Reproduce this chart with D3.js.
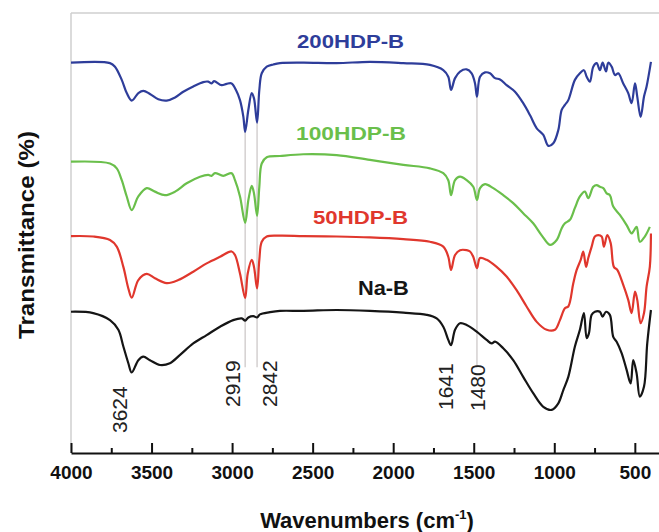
<!DOCTYPE html>
<html>
<head>
<meta charset="utf-8">
<script src="https://cdn.jsdelivr.net/npm/d3@7"></script>
<style>
  html, body { margin: 0; padding: 0; background: #fff; }
  svg { display: block; }
  text { font-family: "Liberation Sans", Arial, sans-serif; }
</style>
</head>
<body>
<svg id="chart" width="659" height="532"></svg>
<script>
// ---------------- DATA ----------------
const seriesNames = ["200HDP-B", "100HDP-B", "50HDP-B", "Na-B"];
const seriesColors = ["#2e3d9a", "#6abf4b", "#e0372d", "#151515"];

// [wavenumber (cm-1), transmittance (%, offset)]
const hdp200 = [
  [4000,88.7],[3758,88.6],[3727,87.8],[3685,84.8],[3654,81.8],[3623,80.1],[3582,81.8],[3551,82.3],
  [3510,81.6],[3458,80.4],[3406,80.1],[3354,80.8],[3303,82.1],[3241,83.3],[3179,84.3],[3148,84.4],
  [3127,84.0],[3112,84.5],[3065,83.6],[3034,83.9],[3003,84.0],[2976,82.5],[2951,80.2],[2930,76.4],
  [2919,73.0],[2899,78.0],[2878,81.8],[2864,80.6],[2845,75.1],[2831,82.5],[2816,86.3],[2785,87.8],
  [2744,88.3],[2703,88.6],[2558,88.7],[2351,88.6],[2144,88.9],[1937,88.6],[1772,88.2],[1689,87.0],
  [1658,85.5],[1641,82.5],[1616,85.2],[1585,86.7],[1544,87.2],[1513,86.3],[1492,84.0],[1480,81.0],
  [1461,85.5],[1430,86.5],[1399,86.3],[1368,85.2],[1337,84.9],[1296,83.6],[1244,82.1],[1193,79.5],
  [1151,76.8],[1109,73.8],[1068,72.3],[1037,69.8],[1006,70.4],[975,73.4],[954,78.0],[934,79.1],
  [913,80.2],[872,84.8],[841,86.3],[816,87.0],[799,85.5],[779,84.4],[758,87.8],[737,88.6],
  [717,87.0],[700,88.7],[679,86.7],[665,88.7],[644,87.8],[623,85.9],[603,86.3],[572,84.0],
  [541,81.8],[520,79.5],[499,84.0],[485,81.0],[464,76.4],[443,81.0],[427,83.3],[400,88.9]
];
const hdp100 = [
  [4000,66.2],[3758,65.8],[3716,64.7],[3685,62.0],[3654,58.3],[3623,55.2],[3582,58.3],[3530,60.2],
  [3479,59.4],[3417,58.6],[3354,59.4],[3282,61.3],[3199,62.8],[3148,63.2],[3127,63.0],[3106,63.6],
  [3055,63.0],[3003,63.6],[2982,62.0],[2951,58.3],[2919,52.3],[2899,57.5],[2878,60.7],[2864,59.0],
  [2845,53.9],[2831,60.5],[2816,65.8],[2785,67.2],[2703,67.5],[2558,67.9],[2351,67.7],[2144,66.6],
  [1937,65.5],[1772,64.7],[1689,63.6],[1658,62.0],[1641,58.6],[1616,62.0],[1585,62.8],[1544,62.0],
  [1503,60.5],[1480,57.5],[1461,60.2],[1430,61.1],[1379,60.2],[1317,58.6],[1255,56.8],[1193,54.5],
  [1131,52.2],[1075,49.3],[1027,47.3],[985,48.4],[954,51.1],[934,52.2],[903,53.0],[872,55.7],
  [841,58.3],[810,59.4],[789,57.9],[758,60.5],[737,60.9],[717,60.5],[696,60.2],[675,59.0],
  [655,58.6],[634,56.0],[593,54.1],[551,51.8],[520,49.9],[510,50.3],[489,51.4],[469,48.0],
  [438,49.2],[407,51.4]
];
const hdp50 = [
  [4000,49.3],[3862,49.2],[3758,48.4],[3716,46.9],[3675,42.3],[3644,37.4],[3623,35.3],[3582,39.3],
  [3530,40.7],[3479,39.7],[3406,38.6],[3334,39.3],[3241,41.2],[3158,43.1],[3075,44.6],[3003,45.8],
  [2982,45.0],[2951,40.8],[2919,35.2],[2903,40.8],[2878,43.9],[2864,42.3],[2845,37.4],[2831,43.9],
  [2816,48.0],[2785,49.2],[2703,49.4],[2558,49.3],[2351,49.2],[2144,49.0],[1937,48.6],[1772,48.0],
  [1689,46.9],[1658,44.6],[1641,41.6],[1616,45.0],[1585,46.1],[1544,46.1],[1523,45.8],[1503,44.6],
  [1480,42.0],[1461,44.3],[1420,43.9],[1358,42.3],[1296,40.1],[1234,37.0],[1172,33.3],[1109,29.8],
  [1047,28.0],[996,28.0],[965,30.2],[934,32.9],[913,33.3],[882,38.6],[861,41.6],[836,43.9],
  [820,45.8],[803,42.3],[789,44.3],[768,46.9],[748,49.2],[727,49.5],[706,49.2],[692,46.9],
  [671,49.5],[650,47.7],[630,42.3],[609,41.6],[572,38.2],[541,34.8],[520,31.8],[499,36.7],
  [485,34.8],[464,29.5],[443,31.8],[427,37.8],[407,42.3],[400,49.9]
];
const naB = [
  [4000,32.1],[3862,31.8],[3758,30.2],[3706,28.0],[3675,24.2],[3644,20.4],[3623,18.3],[3582,21.1],
  [3551,21.9],[3510,21.1],[3448,20.0],[3386,20.4],[3323,22.3],[3241,24.9],[3158,26.8],[3075,28.7],
  [2993,30.2],[2940,30.6],[2919,30.1],[2899,30.8],[2868,31.1],[2845,30.8],[2827,31.5],[2765,32.0],
  [2703,32.3],[2558,32.3],[2351,32.5],[2144,32.3],[1937,31.9],[1792,31.4],[1730,30.6],[1689,28.7],
  [1658,25.7],[1641,24.5],[1616,28.0],[1585,29.5],[1544,29.1],[1482,27.6],[1420,25.7],[1389,24.9],
  [1368,25.3],[1317,23.8],[1255,21.1],[1193,17.3],[1131,13.6],[1068,10.5],[1016,9.8],[975,11.3],
  [944,14.3],[913,17.3],[872,24.2],[841,28.0],[816,31.8],[799,26.1],[785,27.2],[768,31.4],
  [748,32.1],[717,32.1],[700,31.0],[679,32.1],[655,31.4],[634,26.4],[613,25.3],[582,22.7],
  [551,18.9],[526,15.8],[510,21.1],[489,18.1],[469,12.8],[443,15.1],[423,24.9],[400,32.5]
];
const seriesData = [hdp200, hdp100, hdp50, naB];

// peak annotations
const peakLabels = ["3624", "2919", "2842", "1641", "1480"];
// marker lines: wavenumber, top / bottom transmittance
const markerWavenumbers = [2919, 2845, 1480];
const markerTop = [73.0, 75.1, 81.0];
const markerBottom = [19.5, 19.5, 19.5];

const xTickValues = [4000, 3500, 3000, 2500, 2000, 1500, 1000, 500];
const xMinorTicks = [3750, 3250, 2750, 2250, 1750, 1250, 750];

// ---------------- CHART ----------------
const svg = d3.select("#chart");
const x = d3.scaleLinear().domain([4000, 350]).range([71, 659]);
const y = d3.scaleLinear().domain([0, 100]).range([453, 13]);

// frame (light gray)
svg.append("line").attr("x1", x(4000)).attr("x2", x(350)).attr("y1", y(100)).attr("y2", y(100))
  .attr("stroke", "#cfcfcf").attr("stroke-width", 1.5);
svg.append("line").attr("x1", x(4000)).attr("x2", x(4000)).attr("y1", y(100)).attr("y2", y(0))
  .attr("stroke", "#cfcfcf").attr("stroke-width", 1.5);

// marker lines
markerWavenumbers.forEach((w, i) => {
  svg.append("line")
    .attr("x1", x(w)).attr("x2", x(w))
    .attr("y1", y(markerTop[i])).attr("y2", y(markerBottom[i]))
    .attr("stroke", "#c9c4c4").attr("stroke-width", 1.2);
});

// curves
const line = d3.line().x(d => x(d[0])).y(d => y(d[1])).curve(d3.curveCatmullRom.alpha(0.5));
seriesData.forEach((data, i) => {
  svg.append("path").datum(data)
    .attr("d", line)
    .attr("fill", "none")
    .attr("stroke", seriesColors[i])
    .attr("stroke-width", 2.2)
    .attr("stroke-linejoin", "round");
});

// series labels (start wavenumber, baseline transmittance, text length)
const labelPos = [
  {w: 2597, t: 92.0, len: 107, fs: 19},
  {w: 2603, t: 71.2, len: 110, fs: 19},
  {w: 2498, t: 52.0, len: 95, fs: 19},
  {w: 2219, t: 35.9, len: 51, fs: 21}
];
seriesNames.forEach((name, i) => {
  const p = labelPos[i];
  svg.append("text")
    .attr("x", x(p.w)).attr("y", y(p.t))
    .attr("fill", seriesColors[i])
    .attr("font-size", p.fs).attr("font-weight", "bold")
    .attr("textLength", p.len).attr("lengthAdjust", "spacingAndGlyphs")
    .attr("text-anchor", "start")
    .text(name);
});

// peak labels (rotated)
const peakBase = [127, 240, 277, 453, 485];
const peakStart = [433, 407, 407, 410, 411];
peakLabels.forEach((lab, i) => {
  svg.append("text")
    .attr("transform", `translate(${peakBase[i]},${peakStart[i]}) rotate(-90)`)
    .attr("font-size", 21)
    .attr("fill", "#222")
    .attr("text-anchor", "start")
    .text(lab);
});

// x axis
const axis = d3.axisBottom(x).tickValues(xTickValues).tickSizeInner(-10).tickSizeOuter(0).tickPadding(13)
  .tickFormat(d3.format("d"));
const gx = svg.append("g").attr("transform", `translate(0,${y(0)})`).call(axis);
gx.select(".domain").attr("stroke", "#111").attr("stroke-width", 2.2);
gx.selectAll(".tick line").attr("stroke", "#111").attr("stroke-width", 2);
gx.selectAll(".tick text").attr("font-size", 19).attr("font-weight", "bold")
  .attr("fill", "#111").attr("font-family", "'Liberation Sans', Arial, sans-serif");

const minorAxis = d3.axisBottom(x).tickValues(xMinorTicks).tickSizeInner(-5).tickSizeOuter(0).tickFormat("");
const gm = svg.append("g").attr("transform", `translate(0,${y(0)})`).call(minorAxis);
gm.select(".domain").remove();
gm.selectAll(".tick line").attr("stroke", "#111").attr("stroke-width", 2);

// x title
const xt = svg.append("text")
  .attr("x", 367).attr("y", 528)
  .attr("text-anchor", "middle")
  .attr("font-size", 22).attr("font-weight", "bold").attr("fill", "#111");
xt.append("tspan").text("Wavenumbers (cm");
xt.append("tspan").attr("font-size", 13).attr("dy", -9).text("-1");
xt.append("tspan").attr("dy", 9).text(")");

// y title
svg.append("text")
  .attr("transform", "translate(34,235) rotate(-90)")
  .attr("text-anchor", "middle")
  .attr("font-size", 22).attr("font-weight", "bold").attr("fill", "#111")
  .attr("textLength", 208).attr("lengthAdjust", "spacingAndGlyphs")
  .text("Transmittance (%)");
</script>
</body>
</html>
